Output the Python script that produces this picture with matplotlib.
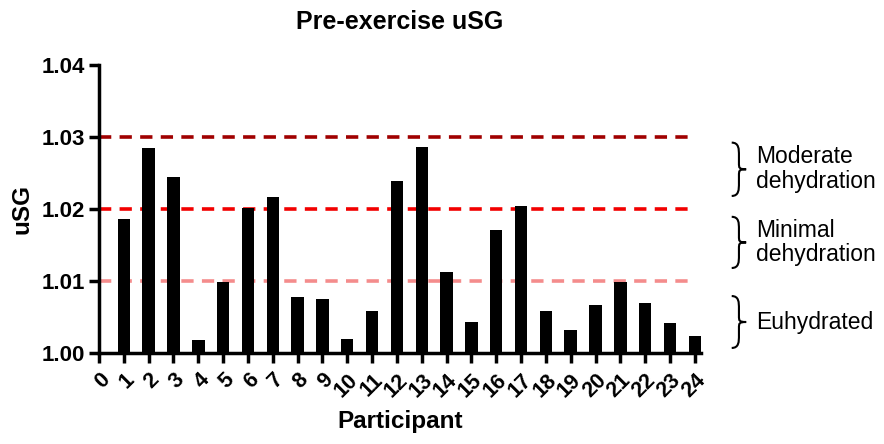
import matplotlib.pyplot as plt
import numpy as np
from matplotlib.path import Path
from matplotlib.patches import PathPatch
from matplotlib.transforms import blended_transform_factory

plt.rcParams['font.family'] = ['Liberation Sans', 'DejaVu Sans']

participants = list(range(1, 25))
usg = [1.0186, 1.0285, 1.0244, 1.0018, 1.0099, 1.0201, 1.0217, 1.0078, 1.0075, 1.0019,
       1.0058, 1.0239, 1.0286, 1.0113, 1.0043, 1.0171, 1.0204, 1.0058, 1.0032, 1.0066,
       1.0099, 1.0070, 1.0041, 1.0024]
thresholds = [1.03, 1.02, 1.01]
threshold_colors = ['#a00000', '#f20000', '#f48c8c']
zones = ['Moderate\ndehydration', 'Minimal\ndehydration', 'Euhydrated']
zone_spans = [(1.0218, 1.0292), (1.0118, 1.0189), (1.0007, 1.0079)]

fig = plt.figure(figsize=(8.84, 4.44), dpi=100)
ax = fig.add_axes([0.112, 0.205, 0.681, 0.649])

for val, col in zip(thresholds, threshold_colors):
    ax.plot([0, 24], [val, val], color=col, lw=2.6, ls=(0, (3.4, 2.3)),
            dash_capstyle='butt', zorder=1)

ax.bar(participants, [u - 1.0 for u in usg], bottom=1.0, width=0.5,
       color='black', zorder=2)

ax.set_xlim(0, 24.25)
ax.set_ylim(1.0, 1.04)
ax.set_yticks([1.00, 1.01, 1.02, 1.03, 1.04])
ax.set_yticklabels(['1.00', '1.01', '1.02', '1.03', '1.04'])
ax.set_xticks(range(0, 25))
ax.set_xticklabels([str(i) for i in range(0, 25)], rotation=45, ha='right',
                   rotation_mode='anchor')

for s in ['top', 'right']:
    ax.spines[s].set_visible(False)
for s in ['left', 'bottom']:
    ax.spines[s].set_linewidth(2.5)
ax.tick_params(width=2.5, length=7, labelsize=16, pad=3)
ax.tick_params(axis='x', labelsize=15.5, pad=5)
for lab in ax.get_xticklabels() + ax.get_yticklabels():
    lab.set_fontweight('bold')

ax.set_title('Pre-exercise uSG', fontsize=18, fontweight='bold', pad=26)
ax.set_xlabel('Participant', fontsize=17.5, fontweight='bold', labelpad=6)
ax.set_ylabel('uSG', fontsize=17.5, fontweight='bold', labelpad=6)

# curly braces with labels
tr = blended_transform_factory(ax.transAxes, ax.transData)
x0, x1 = 1.051, 1.075
for (lo, hi), txt in zip(zone_spans, zones):
    mid = (lo + hi) / 2
    xm = (x0 + x1) / 2
    d = (hi - lo) * 0.12
    verts = [(x0, hi), (xm, hi), (xm, hi - d), (xm, hi - 2 * d),
             (xm, mid + d), (xm, mid + 0.2 * d), (xm, mid), (x1, mid),
             (xm, mid), (xm, mid - 0.2 * d), (xm, mid - d),
             (xm, lo + 2 * d), (xm, lo + d), (xm, lo), (x0, lo)]
    codes = [Path.MOVETO, Path.CURVE4, Path.CURVE4, Path.CURVE4,
             Path.LINETO, Path.CURVE4, Path.CURVE4, Path.CURVE4,
             Path.CURVE4, Path.CURVE4, Path.CURVE4,
             Path.LINETO, Path.CURVE4, Path.CURVE4, Path.CURVE4]
    ax.add_patch(PathPatch(Path(verts, codes), transform=tr, fill=False,
                           lw=1.5, color='black', clip_on=False))
    ax.text(1.092, mid, txt, transform=tr, ha='left', va='center',
            fontsize=16.5, linespacing=1.1)

plt.savefig('out.png', dpi=100)
